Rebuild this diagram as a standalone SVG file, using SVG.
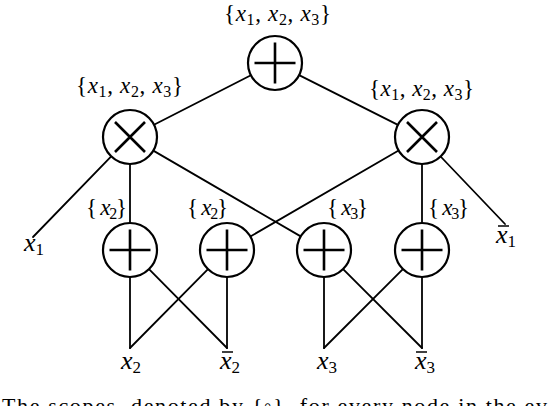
<svg xmlns="http://www.w3.org/2000/svg" width="552" height="406" viewBox="0 0 552 406">
<defs>
<style>
.bg{fill:#fff}
.node{fill:#fff;stroke:#000;stroke-width:2.2}
.sym{stroke:#000;stroke-width:2.6;fill:none}
.edge{stroke:#000;stroke-width:1.8;fill:none;stroke-linecap:round}
.m{font-family:"Liberation Serif","Times New Roman",serif;font-size:23px;fill:#000}
.lf{font-family:"Liberation Serif","Times New Roman",serif;font-size:26px;fill:#000}
.i{font-style:italic}
.sub{font-size:16px}
.lsub{font-size:17px}
.bar{stroke:#000;stroke-width:1.5}
.cap{font-family:"Liberation Serif","Times New Roman",serif;font-size:22px;fill:#000}
</style>
</defs>
<rect class="bg" x="0" y="0" width="552" height="406"/>
<g id="connectors">
<line class="edge" x1="250.9" y1="75.3" x2="154.0" y2="124.7"/>
<line class="edge" x1="299.1" y1="75.1" x2="397.9" y2="124.9"/>
<line class="edge" x1="111.2" y1="156.4" x2="33" y2="237"/>
<line class="edge" x1="130" y1="164" x2="130" y2="223"/>
<line class="edge" x1="153.3" y1="150.6" x2="300.7" y2="236.4"/>
<line class="edge" x1="398.6" y1="150.5" x2="250.4" y2="236.5"/>
<line class="edge" x1="422" y1="164" x2="422" y2="223"/>
<line class="edge" x1="440.6" y1="156.5" x2="505" y2="224"/>
<line class="edge" x1="130" y1="277" x2="130" y2="348"/>
<line class="edge" x1="149.0" y1="269.2" x2="227" y2="348"/>
<line class="edge" x1="227" y1="277" x2="227" y2="348"/>
<line class="edge" x1="208.0" y1="269.2" x2="130" y2="348"/>
<line class="edge" x1="324" y1="277" x2="324" y2="348"/>
<line class="edge" x1="343.1" y1="269.1" x2="422" y2="348"/>
<line class="edge" x1="422" y1="277" x2="422" y2="348"/>
<line class="edge" x1="402.9" y1="269.1" x2="324" y2="348"/>
</g>
<g id="root">
<circle class="node" cx="275" cy="63" r="27"/>
<path class="sym" d="M254.5 63H295.5M275 42.5V83.5"/>
<text class="m" x="224" y="21" textLength="107" lengthAdjust="spacing">{<tspan class="i">x</tspan><tspan class="sub" dy="4">1</tspan><tspan dy="-4">, </tspan><tspan class="i">x</tspan><tspan class="sub" dy="4">2</tspan><tspan dy="-4">, </tspan><tspan class="i">x</tspan><tspan class="sub" dy="4">3</tspan><tspan dy="-4">}</tspan></text>
</g>
<g id="prod1">
<circle class="node" cx="130" cy="137" r="27"/>
<path class="sym" d="M115 122L145 152M145 122L115 152"/>
<text class="m" x="76" y="93" textLength="107" lengthAdjust="spacing">{<tspan class="i">x</tspan><tspan class="sub" dy="4">1</tspan><tspan dy="-4">, </tspan><tspan class="i">x</tspan><tspan class="sub" dy="4">2</tspan><tspan dy="-4">, </tspan><tspan class="i">x</tspan><tspan class="sub" dy="4">3</tspan><tspan dy="-4">}</tspan></text>
</g>
<g id="prod2">
<circle class="node" cx="422" cy="137" r="27"/>
<path class="sym" d="M407 122L437 152M437 122L407 152"/>
<text class="m" x="369" y="96" textLength="105" lengthAdjust="spacing">{<tspan class="i">x</tspan><tspan class="sub" dy="4">1</tspan><tspan dy="-4">, </tspan><tspan class="i">x</tspan><tspan class="sub" dy="4">2</tspan><tspan dy="-4">, </tspan><tspan class="i">x</tspan><tspan class="sub" dy="4">3</tspan><tspan dy="-4">}</tspan></text>
</g>
<g id="sum1">
<circle class="node" cx="130" cy="250" r="27"/>
<path class="sym" d="M109.5 250H150.5M130 229.5V270.5"/>
<text class="m" x="86" y="215" textLength="41" lengthAdjust="spacing">{ <tspan class="i">x</tspan><tspan class="sub" dy="4">2</tspan><tspan dy="-4">}</tspan></text>
</g>
<g id="sum2">
<circle class="node" cx="227" cy="250" r="27"/>
<path class="sym" d="M206.5 250H247.5M227 229.5V270.5"/>
<text class="m" x="187" y="215" textLength="41" lengthAdjust="spacing">{ <tspan class="i">x</tspan><tspan class="sub" dy="4">2</tspan><tspan dy="-4">}</tspan></text>
</g>
<g id="sum3">
<circle class="node" cx="324" cy="250" r="27"/>
<path class="sym" d="M303.5 250H344.5M324 229.5V270.5"/>
<text class="m" x="327" y="215" textLength="41" lengthAdjust="spacing">{ <tspan class="i">x</tspan><tspan class="sub" dy="4">3</tspan><tspan dy="-4">}</tspan></text>
</g>
<g id="sum4">
<circle class="node" cx="422" cy="250" r="27"/>
<path class="sym" d="M401.5 250H442.5M422 229.5V270.5"/>
<text class="m" x="428" y="215" textLength="41" lengthAdjust="spacing">{ <tspan class="i">x</tspan><tspan class="sub" dy="4">3</tspan><tspan dy="-4">}</tspan></text>
</g>
<g id="leaf-x1">
<text class="lf" x="24" y="251"><tspan class="i">x</tspan><tspan class="lsub" dy="4">1</tspan></text>
</g>
<g id="leaf-nx1">
<line class="bar" x1="498" y1="226" x2="509" y2="226"/>
<text class="lf" x="496" y="243"><tspan class="i">x</tspan><tspan class="lsub" dy="4">1</tspan></text>
</g>
<g id="leaf-x2">
<text class="lf" x="121" y="369"><tspan class="i">x</tspan><tspan class="lsub" dy="4">2</tspan></text>
</g>
<g id="leaf-nx2">
<line class="bar" x1="222" y1="352" x2="233" y2="352"/>
<text class="lf" x="220" y="369"><tspan class="i">x</tspan><tspan class="lsub" dy="4">2</tspan></text>
</g>
<g id="leaf-x3">
<text class="lf" x="317" y="369"><tspan class="i">x</tspan><tspan class="lsub" dy="4">3</tspan></text>
</g>
<g id="leaf-nx3">
<line class="bar" x1="416" y1="352" x2="427" y2="352"/>
<text class="lf" x="415" y="369"><tspan class="i">x</tspan><tspan class="lsub" dy="4">3</tspan></text>
</g>
<text class="cap" x="2" y="413" textLength="545" lengthAdjust="spacing">The scopes, denoted by {◦}, for every node in the ev</text>
</svg>
